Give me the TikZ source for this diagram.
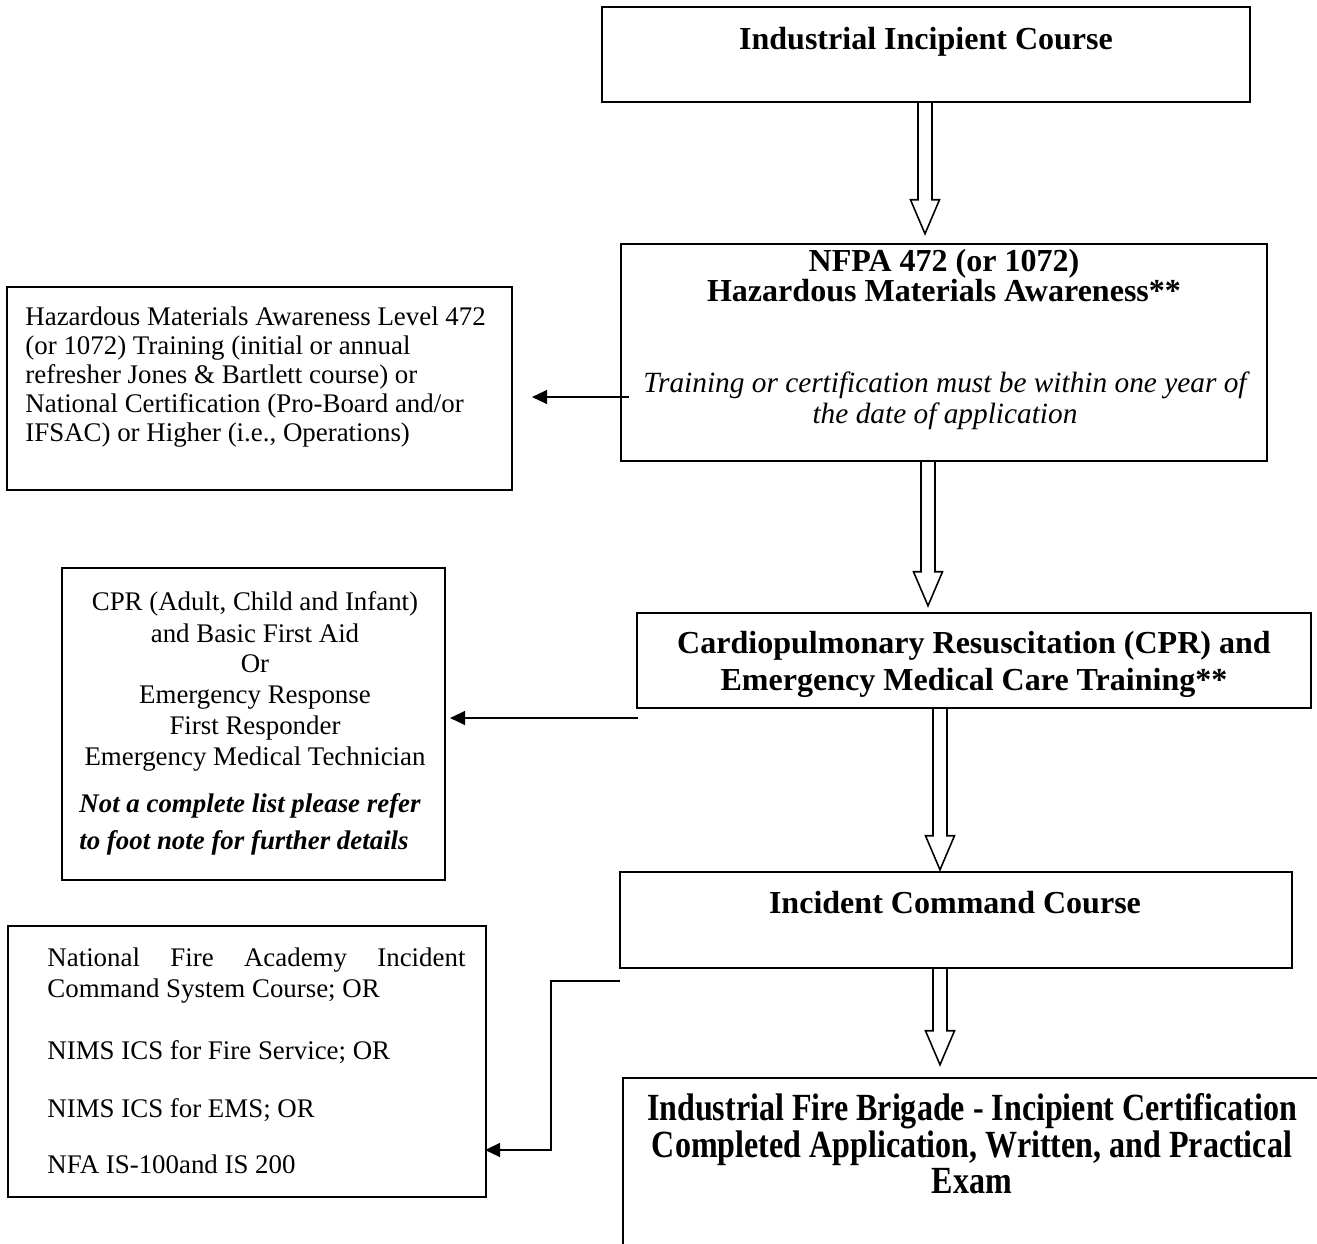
\documentclass[tikz,border=0pt]{standalone}
\usepackage{fontspec}
\setmainfont{Liberation Serif}
\usetikzlibrary{calc,arrows.meta}
\newdimen\pxu \pxu=0.4464pt
\newcommand\blockarrow[2]{%
  \draw[blockarr] ($(#1)+(-7,0)$) -- ($(#2)+(-7,-34)$) -- ($(#2)+(-14.5,-34)$) -- (#2)
    -- ($(#2)+(14.5,-34)$) -- ($(#2)+(7,-34)$) -- ($(#1)+(7,0)$);}
\tikzset{
  boxnode/.style={draw=black, line width=1.1pt, inner sep=0pt, fill=none},
  blockarr/.style={draw=black, line width=0.7pt, line join=miter},
  linkarr/.style={draw=black, line width=0.95pt, -{Triangle[length=6.8pt,width=6.2pt]}},
  body/.style={inner sep=0pt, anchor=base, font=\fontsize{12}{14}\selectfont},
  bodyl/.style={body, anchor=base west},
  head/.style={inner sep=0pt, anchor=base, font=\fontsize{14.3}{16}\selectfont\bfseries},
  ital/.style={inner sep=0pt, anchor=base, font=\fontsize{13.1}{15}\selectfont\itshape},
  bital/.style={inner sep=0pt, anchor=base, font=\fontsize{12}{14}\selectfont\bfseries\itshape},
}
\begin{document}
\begin{tikzpicture}[x=0.4464pt,y=-0.4464pt]
\useasboundingbox (0,0) rectangle (1317,1243);
\fill[white] (0,0) rectangle (1317,1243);
\clip (0,0) rectangle (1317,1243);

% boxes
\node[boxnode, minimum width={648*\pxu}, minimum height={95*\pxu}] (B1) at (926,54.5) {};
\node[boxnode, minimum width={646*\pxu}, minimum height={217*\pxu}] (B2) at (944,352.5) {};
\node[boxnode, minimum width={505*\pxu}, minimum height={203*\pxu}] (L1) at (259.5,388.5) {};
\node[boxnode, minimum width={674*\pxu}, minimum height={95*\pxu}] (B3) at (974,660.5) {};
\node[boxnode, minimum width={383*\pxu}, minimum height={312*\pxu}] (L2) at (253.5,724) {};
\node[boxnode, minimum width={672*\pxu}, minimum height={96*\pxu}] (B4) at (956,920) {};
\node[boxnode, minimum width={478*\pxu}, minimum height={271*\pxu}] (L3) at (247,1061.5) {};
\node[boxnode, minimum width={707*\pxu}, minimum height={200*\pxu}] (B5) at (976.5,1178) {};

% block arrows
\coordinate (ax1) at (925,0);
\coordinate (ax2) at (928,0);
\coordinate (ax3) at (940,0);
\coordinate (ax4) at (940,0);
\coordinate (a1s) at (B1.south -| ax1);
\coordinate (a1e) at ($(B2.north -| ax1)+(0,-9)$);
\coordinate (a2s) at (B2.south -| ax2);
\coordinate (a2e) at ($(B3.north -| ax2)+(0,-6)$);
\coordinate (a3s) at (B3.south -| ax3);
\coordinate (a3e) at ($(B4.north -| ax3)+(0,-1)$);
\coordinate (a4s) at (B4.south -| ax4);
\coordinate (a4e) at ($(B5.north -| ax4)+(0,-12)$);
\blockarrow{a1s}{a1e}
\blockarrow{a2s}{a2e}
\blockarrow{a3s}{a3e}
\blockarrow{a4s}{a4e}

% side connectors
\coordinate (h1s) at (629,397);
\coordinate (h1e) at (532,397);
\draw[linkarr] (h1s) -- (h1e);
\coordinate (h2s) at (638,718);
\coordinate (h2e) at (450,718);
\draw[linkarr] (h2s) -- (h2e);
\coordinate (h3s) at (620,981);
\coordinate (h3m) at (551,981);
\coordinate (h3e) at (485,1150);
\draw[linkarr] (h3s) -- (h3m) |- (h3e);

% texts box 1
\node[head] (t1) at (926,49) {Industrial Incipient Course};
% box 2
\node[head] (t2a) at (944,271) {NFPA 472 (or 1072)};
\node[head] (t2b) at (944,301) {Hazardous Materials Awareness**};
\node[ital] (t2c) at (945,392) {Training or certification must be within one year of};
\node[ital] (t2d) at (945,423) {the date of application};
% left box 1
\node[bodyl] (l1a) at (25,325) {Hazardous Materials Awareness Level 472};
\node[bodyl] (l1b) at (25,354) {(or 1072) Training (initial or annual};
\node[bodyl] (l1c) at (25,383) {refresher Jones \& Bartlett course) or};
\node[bodyl] (l1d) at (25,412) {National Certification (Pro-Board and/or};
\node[bodyl] (l1e) at (25,441) {IFSAC) or Higher (i.e., Operations)};
% box 3
\node[head] (t3a) at (974,653) {Cardiopulmonary Resuscitation (CPR) and};
\node[head] (t3b) at (974,690) {Emergency Medical Care Training**};
% left box 2
\node[body] (l2a) at (255,610) {CPR (Adult, Child and Infant)};
\node[body] (l2b) at (255,642) {and Basic First Aid};
\node[body] (l2c) at (255,672) {Or};
\node[body] (l2d) at (255,703) {Emergency Response};
\node[body] (l2e) at (255,734) {First Responder};
\node[body] (l2f) at (255,765) {Emergency Medical Technician};
\node[bital] (l2g) at (250,812) {Not a complete list please refer};
\node[bital] (l2h) at (244,849) {to foot note for further details};
% box 4
\node[head] (t4) at (955,913) {Incident Command Course};
% left box 3
\node[bodyl] (l3a) at (47,966) {\makebox[186.6pt][s]{National Fire Academy Incident}};
\node[bodyl] (l3b) at (47,997) {Command System Course; OR};
\node[bodyl] (l3c) at (47,1059) {NIMS ICS for Fire Service; OR};
\node[bodyl] (l3d) at (47,1117) {NIMS ICS for EMS; OR};
\node[bodyl] (l3e) at (47,1173) {NFA IS-100and IS 200};
% box 5
\node[head] (t5a) at (972,1120) {\scalebox{1}[1.2]{Industrial Fire Brigade - Incipient Certification}};
\node[head] (t5b) at (972,1157) {\scalebox{1}[1.2]{Completed Application, Written, and Practical}};
\node[head] (t5c) at (972,1193) {\scalebox{1}[1.2]{Exam}};
\end{tikzpicture}
\end{document}
